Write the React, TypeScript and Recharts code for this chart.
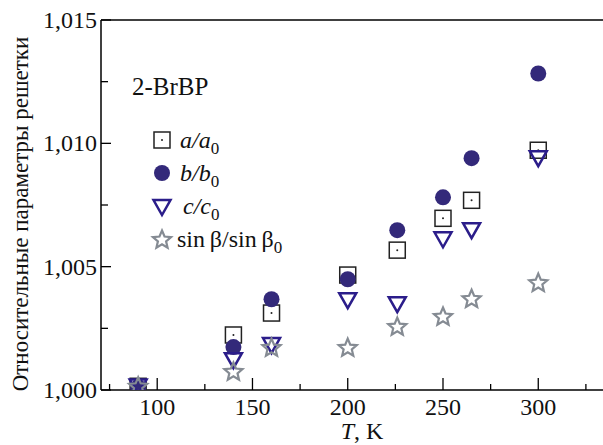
import React from "react";
import { ScatterChart, Scatter, XAxis, YAxis, ReferenceLine } from "recharts";

// T, K
const temps = [90, 140, 160, 200, 226, 250, 265, 300];
const aRatio = [1.00015, 1.00223, 1.00312, 1.00466, 1.00567, 1.00696, 1.00769, 1.00972];
const bRatio = [1.00012, 1.00174, 1.00368, 1.00449, 1.00648, 1.00781, 1.0094, 1.01283];
const cRatio = [1.00014, 1.00121, 1.00182, 1.00364, 1.00348, 1.00611, 1.00648, 1.0094];
const sinRatio = [1.00013, 1.00073, 1.0017, 1.0017, 1.00255, 1.00296, 1.00368, 1.00433];

const xTicks = [75, 100, 125, 150, 175, 200, 225, 250, 275, 300, 325];
const yTicks = [1.0, 1.0025, 1.005, 1.0075, 1.01, 1.0125, 1.015];

const FONT = "Liberation Serif";
const CIRCLE = "#33297a";
const TRI = "#2b1d8a";
const STAR = "#858b93";
const SQ = "#222";

const toPoints = (vals: number[]) => temps.map((t, i) => ({ T: t, v: vals[i] }));

function SquareMark({ cx, cy }: { cx: number; cy: number }) {
  return (
    <g>
      <rect x={cx - 8} y={cy - 8} width={16} height={16} fill="none" stroke={SQ} strokeWidth={1.5} />
      <circle cx={cx} cy={cy} r={1} fill={SQ} />
    </g>
  );
}

function CircleMark({ cx, cy }: { cx: number; cy: number }) {
  return <circle cx={cx} cy={cy} r={8} fill={CIRCLE} />;
}

function TriMark({ cx, cy }: { cx: number; cy: number }) {
  const p = `${cx - 8.5},${cy - 7} ${cx + 8.5},${cy - 7} ${cx},${cy + 8}`;
  return <polygon points={p} fill="none" stroke={TRI} strokeWidth={2.5} />;
}

function StarMark({ cx, cy }: { cx: number; cy: number }) {
  const pts: string[] = [];
  for (let i = 0; i < 10; i++) {
    const r = i % 2 === 0 ? 9.5 : 4.3;
    const a = -Math.PI / 2 + (i * Math.PI) / 5;
    pts.push(`${(cx + r * Math.cos(a)).toFixed(2)},${(cy + r * Math.sin(a)).toFixed(2)}`);
  }
  return <polygon points={pts.join(" ")} fill="none" stroke={STAR} strokeWidth={2.2} />;
}

function XTick({ x, y, payload }: any) {
  const major = payload.value % 50 === 0;
  return (
    <g>
      <line x1={x} x2={x} y1={y} y2={y - (major ? 12 : 6)} stroke="#000" strokeWidth={1.3} />
      {major && (
        <text x={x} y={y + 25} textAnchor="middle" style={{ fontFamily: FONT, fontSize: 24 }} fill="#111">
          {payload.value}
        </text>
      )}
    </g>
  );
}

function YTick({ x, y, payload }: any) {
  const v = payload.value as number;
  const major = Math.abs(v * 200 - Math.round(v * 200)) < 1e-6;
  return (
    <g>
      <line x1={x} x2={x + (major ? 10 : 7)} y1={y} y2={y} stroke="#000" strokeWidth={1.3} />
      {major && (
        <text x={x - 4} y={y + 8} textAnchor="end" style={{ fontFamily: FONT, fontSize: 24 }} fill="#111">
          {v.toFixed(3).replace(".", ",")}
        </text>
      )}
    </g>
  );
}

function Legend() {
  const txt = { fontFamily: FONT, fontSize: 24 };
  return (
    <svg width={320} height={270} style={{ position: "absolute", left: 0, top: 0 }}>
      <text x={132} y={95} style={{ ...txt, fontSize: 25 }} fill="#111">2-BrBP</text>
      <SquareMark cx={162} cy={140} />
      <text x={180} y={148} style={{ ...txt, fontStyle: "italic" }} fill="#111">
        a/a<tspan dy={6} style={{ fontSize: 17, fontStyle: "normal" }}>0</tspan>
      </text>
      <CircleMark cx={162} cy={173} />
      <text x={180} y={181} style={{ ...txt, fontStyle: "italic" }} fill="#111">
        b/b<tspan dy={6} style={{ fontSize: 17, fontStyle: "normal" }}>0</tspan>
      </text>
      <TriMark cx={162} cy={207} />
      <text x={183} y={214} style={{ ...txt, fontStyle: "italic" }} fill="#111">
        c/c<tspan dy={6} style={{ fontSize: 17, fontStyle: "normal" }}>0</tspan>
      </text>
      <StarMark cx={162} cy={240} />
      <text x={177} y={247} style={txt} fill="#111">
        sin{"\u2009"}β/sin{"\u2009"}β<tspan dy={6} style={{ fontSize: 17 }}>0</tspan>
      </text>
    </svg>
  );
}

export default function App() {
  return (
    <div
      style={{
        position: "absolute",
        left: 0,
        top: 0,
        width: 603,
        height: 445,
        overflow: "hidden",
        background: "#fff",
      }}
    >
      <ScatterChart width={624} height={445} margin={{ top: 20, right: 0, left: 0, bottom: 0 }}>
        <XAxis
          type="number"
          dataKey="T"
          domain={[70.5, 345]}
          ticks={xTicks}
          interval={0}
          tick={<XTick />}
          tickLine={false}
          tickSize={0}
          tickMargin={0}
          height={55}
          axisLine={{ stroke: "#000", strokeWidth: 1.5 }}
          allowDataOverflow
          label={() => (
            <text x={362} y={439} textAnchor="middle" style={{ fontFamily: FONT, fontSize: 24 }} fill="#111">
              <tspan style={{ fontStyle: "italic" }}>T</tspan>, K
            </text>
          )}
        />
        <YAxis
          type="number"
          dataKey="v"
          domain={[1.0, 1.015]}
          ticks={yTicks}
          interval={0}
          tick={<YTick />}
          tickLine={false}
          tickSize={0}
          tickMargin={0}
          width={101}
          axisLine={{ stroke: "#000", strokeWidth: 1.5 }}
          allowDataOverflow
          label={() => (
            <text
              x={28}
              y={214}
              transform="rotate(-90 28 214)"
              textAnchor="middle"
              style={{ fontFamily: FONT, fontSize: 23 }}
              fill="#111"
            >
              Относительные параметры решетки
            </text>
          )}
        />
        <ReferenceLine y={1.015} stroke="#000" strokeWidth={1.5} />
        <Scatter data={toPoints(aRatio)} shape={(p: any) => <SquareMark cx={p.cx} cy={p.cy} />} isAnimationActive={false} />
        <Scatter data={toPoints(bRatio)} shape={(p: any) => <CircleMark cx={p.cx} cy={p.cy} />} isAnimationActive={false} />
        <Scatter data={toPoints(cRatio)} shape={(p: any) => <TriMark cx={p.cx} cy={p.cy} />} isAnimationActive={false} />
        <Scatter data={toPoints(sinRatio)} shape={(p: any) => <StarMark cx={p.cx} cy={p.cy} />} isAnimationActive={false} />
      </ScatterChart>
      <Legend />
    </div>
  );
}
